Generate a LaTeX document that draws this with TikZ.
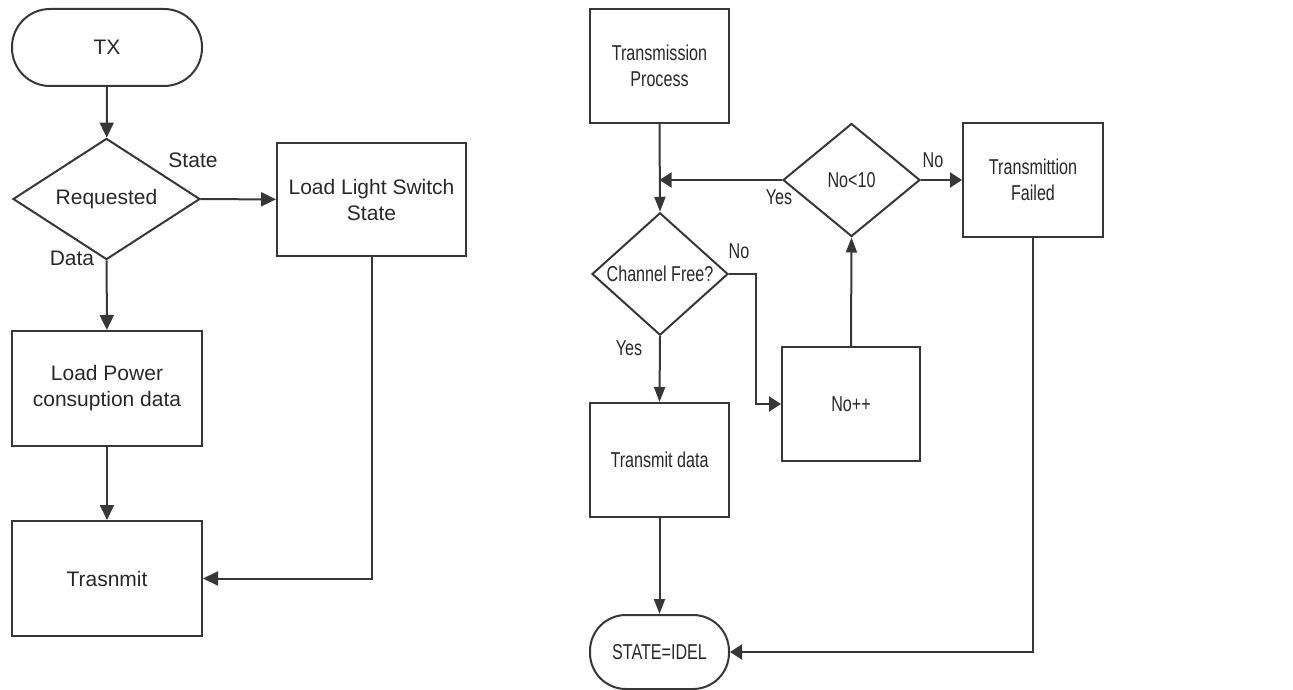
\documentclass[tikz,border=0pt]{standalone}
\usepackage{fontspec}
\setmainfont{Liberation Sans}
\newfontfamily\narrowsans{Liberation Sans}[FakeStretch=0.75]
\usetikzlibrary{arrows.meta,shapes.geometric}
\definecolor{linec}{RGB}{55,55,55}
\definecolor{textc}{RGB}{40,40,40}
\tikzset{
  base/.style={draw=linec, line width=2pt, text=textc, inner sep=0pt, align=center},
  lfont/.style={font=\fontsize{21}{26}\selectfont},
  rfont/.style={font=\narrowsans\fontsize{21.5}{26}\selectfont},
  % left chart shapes
  lbox/.style={base, lfont, rectangle, minimum width=190pt, minimum height=115pt},
  ldec/.style={base, lfont, diamond, minimum width=187pt, minimum height=112pt},
  lterm/.style={base, lfont, rectangle, rounded corners=38pt, minimum width=190pt, minimum height=77pt},
  % right chart shapes
  rbox/.style={base, rfont, rectangle, minimum width=139pt, minimum height=114pt},
  rdec/.style={base, rfont, diamond, minimum width=137pt, minimum height=113pt},
  rterm/.style={base, rfont, rectangle, rounded corners=36pt, minimum width=139pt, minimum height=74pt},
  % labels on branches
  llabel/.style={lfont, text=textc, inner sep=0pt},
  rlabel/.style={rfont, text=textc, inner sep=0pt},
  % connectors
  conn/.style={draw=linec, line width=2pt},
  larrow/.style={conn, -{Triangle[length=15pt,width=14pt]}},
  varrow/.style={conn, -{Triangle[length=15pt,width=11pt]}},
  harrow/.style={conn, -{Triangle[length=12pt,width=15pt]}},
}
\begin{document}
\begin{tikzpicture}[x=1pt,y=-1pt]
\useasboundingbox (0,0) rectangle (1293,690);

% ---- TX flow ----
\node[lterm] (tx)    at (107,47.5)   {TX};
\node[ldec]  (req)   at (106.5,199)  {Requested};
\node[lbox, minimum width=189pt, minimum height=113pt] (light) at (371.5,199.5) {Load Light Switch\\State};
\node[lbox]  (power) at (107,388.5)  {Load Power\\consuption data};
\node[lbox]  (trans) at (107,578.5)  {Trasnmit};

\node[llabel] (lstate) at (193,160) {State};
\node[llabel] (ldata)  at (72,258)  {Data};

\draw[larrow] (tx) -- (req);
\draw[larrow] (req) -- (light);
\draw[larrow] (req) -- (power);
\draw[larrow] (power) -- (trans);
\draw[larrow] (light.south) |- (trans.east);

% ---- Transmission process ----
\node[rbox]  (tp)   at (659.5,66)  {Transmission\\Process};
\node[rdec]  (n10)  at (851.5,180) {No<10};
\node[rbox, minimum width=140pt] (tf) at (1033,180) {Transmittion\\Failed};
\node[rdec, minimum width=136pt, minimum height=112pt] (cf) at (660,274) {Channel Free?};
\node[rbox, minimum width=138pt] (npp) at (851,404) {No++};
\node[rbox]  (td)   at (659.5,460) {Transmit data};
\node[rterm] (idle) at (659.5,652) {STATE=IDEL};

\node[rlabel] (ryes1) at (779,197) {Yes};
\node[rlabel] (rno1)  at (933,160) {No};
\node[rlabel] (rno2)  at (739,251) {No};
\node[rlabel] (ryes2) at (629,348) {Yes};

\coordinate (join) at (tp.south |- n10.west);
\coordinate (bend) at (756,274);

\draw[varrow] (tp.south) -- (cf.north);
\draw[harrow] (n10.west) -- (join);
\draw[harrow] (n10.east) -- (tf.west);
\draw[harrow] (cf.east) -- (bend) |- (npp.west);
\draw[varrow] (npp.north) -- (n10.south);
\draw[varrow] (cf.south) -- (td.north);
\draw[varrow] (td.south) -- (idle.north);
\draw[harrow] (tf.south) |- (idle.east);
\end{tikzpicture}
\end{document}
